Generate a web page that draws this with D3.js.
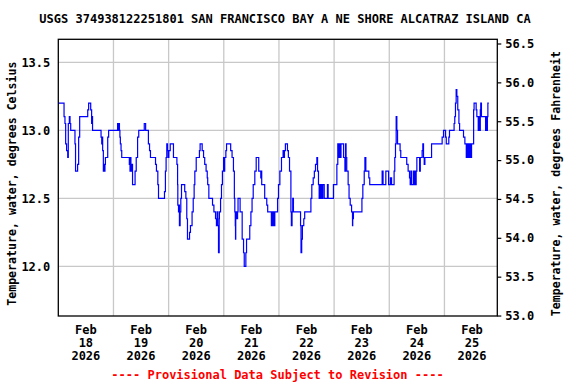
<!DOCTYPE html>
<html>
<head>
<meta charset="utf-8">
<script src="https://cdn.jsdelivr.net/npm/d3@7"></script>
<style>
  html, body { margin: 0; padding: 0; background: #fff; }
  svg { display: block; }
  text { font-family: "DejaVu Sans Mono", "Liberation Mono", monospace; font-weight: bold; }
</style>
</head>
<body>
<svg id="chart" width="576" height="384"></svg>
<script>
// ---------- DATA ----------
const chartTitle = "USGS 374938122251801 SAN FRANCISCO BAY A NE SHORE ALCATRAZ ISLAND CA";
const leftAxisTitle = "Temperature, water, degrees Celsius";
const rightAxisTitle = "Temperature, water, degrees Fahrenheit";
const footnote = "---- Provisional Data Subject to Revision ----";

// hours since 2026-02-18 00:00 at which the reading changes
const obsHours = [
  0,2.5,2.9,3.2,3.6,4.1,4.35,4.8,5.1,5.4,7.25,7.5,8.4,8.85,9.3,12.8,13.2,14.1,14.5,14.7,14.9,
  18.6,18.9,19.1,19.3,19.6,19.8,20.0,20.3,20.5,21.5,21.9,25.8,26.1,26.4,26.6,26.8,27.0,27.3,27.6,
  30.9,31.0,31.2,31.4,31.6,31.9,32.3,33.4,33.9,34.5,35.0,37.4,38.0,
  39.2,39.7,40.1,42.3,42.7,43.3,43.6,46.2,46.6,46.9,47.2,47.5,47.8,48.1,48.7,50.1,51.6,51.9,52.0,
  52.3,52.5,52.7,53.0,53.3,53.6,55.0,55.5,55.9,56.2,57.1,57.5,58.2,58.7,59.1,59.4,60.0,61.4,61.7,
  62.6,63.2,63.7,64.3,64.8,65.0,65.5,67.1,67.7,68.4,68.8,69.1,69.4,69.7,70.0,70.1,70.6,71.0,71.4,
  71.9,72.2,72.4,72.9,73.2,75.0,75.6,76.2,76.6,
  76.8,77.0,77.1,77.2,77.4,77.7,78.0,78.2,79.1,80.0,80.6,80.9,81.6,81.9,83.3,83.8,84.3,84.8,85.5,
  86.1,87.2,88.1,88.3,88.5,89.8,90.7,91.1,92.7,93.0,93.3,93.6,93.9,94.2,95.4,95.8,96.4,97.1,97.8,
  98.1,98.4,98.8,99.7,100.1,100.6,101.2,101.4,101.7,102.0,102.3,105.4,105.6,105.9,106.2,106.8,107.2,
  109.9,110.3,110.9,111.4,111.9,112.5,112.8,113.2,113.5,113.8,114.1,114.5,114.8,115.1,
  115.7,117.1,117.4,119.7,121.2,121.6,122.1,122.3,122.7,123.0,124.1,124.7,124.95,125.2,125.5,126.1,
  126.5,127.0,127.6,128.0,128.1,128.4,132.1,132.5,133.1,133.4,133.8,135.1,135.5,140.9,141.3,142.5,
  143.7,144.5,145.0,146.1,146.4,146.7,147.0,147.3,147.6,148.7,149.0,151.6,152.2,152.8,153.1,
  153.4,153.7,154.5,154.8,155.2,155.4,155.7,156.0,157.2,157.5,158.3,158.6,158.9,159.2,159.5,162.4,
  167.0,167.6,168.5,168.8,169.9,170.2,172.2,172.5,172.8,173.1,173.4,173.8,174.3,174.6,176.3,176.9,
  177.5,177.8,178.1,178.4,178.7,179.0,179.3,179.8,180.7,180.9,181.8,182.1,182.7,183.0,183.3,183.6,
  183.8,184.1,185.9,186.3,186.5,186.7,186.9,187.3
];
const obsTempC = [
  13.2,13.1,13.05,12.9,12.85,12.8,13.05,13.1,13.05,13.0,12.9,12.7,12.75,12.95,13.1,13.15,13.2,13.15,13.05,13.1,13.0,
  12.95,12.9,12.95,12.85,12.7,12.75,12.7,12.75,12.8,12.95,13.0,13.05,13.0,13.05,13.0,12.95,12.9,12.85,12.8,
  12.75,12.8,12.7,12.8,12.7,12.75,12.6,12.7,12.8,12.95,13.0,13.05,13.0,
  12.9,12.85,12.8,12.75,12.7,12.6,12.5,12.55,12.7,12.8,12.9,12.85,12.8,12.85,12.9,12.8,12.75,12.6,12.45,
  12.4,12.45,12.3,12.4,12.5,12.6,12.55,12.5,12.35,12.2,12.25,12.3,12.4,12.5,12.6,12.7,12.8,12.85,12.9,
  12.85,12.8,12.75,12.7,12.65,12.6,12.5,12.45,12.4,12.35,12.3,12.4,12.3,12.1,12.35,12.4,12.5,12.6,12.7,
  12.8,12.7,12.8,12.85,12.9,12.85,12.8,12.7,12.5,
  12.4,12.3,12.2,12.35,12.4,12.35,12.4,12.5,12.4,12.2,12.1,12.0,12.1,12.2,12.3,12.4,12.5,12.6,12.7,
  12.8,12.7,12.65,12.7,12.6,12.5,12.45,12.4,12.3,12.4,12.3,12.4,12.3,12.4,12.5,12.6,12.7,12.8,12.85,
  12.8,12.85,12.9,12.85,12.8,12.7,12.4,12.3,12.4,12.5,12.4,12.3,12.1,12.2,12.3,12.35,12.4,
  12.5,12.6,12.65,12.7,12.75,12.8,12.7,12.6,12.5,12.6,12.5,12.6,12.5,12.6,
  12.5,12.6,12.5,12.6,12.75,12.9,12.8,12.9,12.8,12.9,12.8,12.7,12.9,12.8,12.7,12.6,
  12.5,12.45,12.4,12.3,12.35,12.4,12.5,12.6,12.7,12.8,12.7,12.65,12.6,12.7,12.6,12.7,
  12.6,12.65,12.6,12.7,12.8,12.9,13.1,13.0,12.9,12.85,12.8,12.75,12.7,12.65,12.6,
  12.7,12.6,12.7,12.6,12.7,12.6,12.7,12.8,12.7,12.8,12.85,12.9,12.8,12.75,12.8,12.9,
  12.95,13.0,12.95,12.9,12.95,13.0,13.05,13.1,13.2,13.3,13.25,13.15,13.05,13.0,12.95,12.9,
  12.8,12.9,12.8,12.9,12.8,12.9,12.8,12.9,13.15,13.2,13.15,13.1,13.0,13.1,13.0,13.15,
  13.2,13.1,13.0,13.1,13.0,13.1,13.2,13.2
];
const dayLabels = ["18","19","20","21","22","23","24","25"];
const monthLabel = "Feb";
const yearLabel = "2026";
const celsiusTicks = [12.0, 12.5, 13.0, 13.5];
const fahrenheitTicks = [53.0, 53.5, 54.0, 54.5, 55.0, 55.5, 56.0, 56.5];

// ---------- LAYOUT ----------
const W = 576, H = 384;
const plot = { left: 58.3, right: 497.3, top: 39.3, bottom: 316 };
const t0 = Date.UTC(2026, 1, 18, 0, 0);
const hr = 3600 * 1000;

const svg = d3.select("#chart");

const x = d3.scaleUtc()
  .domain([new Date(t0), new Date(t0 + 191 * hr)])
  .range([plot.left, plot.right]);
const yC = d3.scaleLinear().domain([11.635, 13.669]).range([plot.bottom, plot.top]);
const yF = d3.scaleLinear().domain([52.994, 56.554]).range([plot.bottom, plot.top]);

// gridlines
const gridColor = "#c8c8c8";
const midnights = dayLabels.slice(1).map((d, i) => new Date(t0 + (i + 1) * 24 * hr));
svg.append("g").selectAll("line").data(midnights).join("line")
  .attr("x1", d => x(d)).attr("x2", d => x(d))
  .attr("y1", plot.top).attr("y2", plot.bottom)
  .attr("stroke", gridColor).attr("stroke-width", 1.3);
svg.append("g").selectAll("line").data(celsiusTicks).join("line")
  .attr("x1", plot.left).attr("x2", plot.right)
  .attr("y1", d => yC(d)).attr("y2", d => yC(d))
  .attr("stroke", gridColor).attr("stroke-width", 1.3);

// data line
const pts = obsHours.map((h, i) => ({ t: new Date(t0 + h * hr), v: obsTempC[i] }));
svg.append("path")
  .datum(pts)
  .attr("fill", "none")
  .attr("stroke", "#0000ff")
  .attr("stroke-width", 1.2)
  .attr("d", d3.line().x(d => x(d.t)).y(d => yC(d.v)).curve(d3.curveStepAfter));

// frame
svg.append("rect")
  .attr("x", plot.left).attr("y", plot.top)
  .attr("width", plot.right - plot.left).attr("height", plot.bottom - plot.top)
  .attr("fill", "none").attr("stroke", "#000").attr("stroke-width", 1.3);

// left axis labels
const leftAxis = d3.axisLeft(yC).tickValues(celsiusTicks).tickSize(0).tickPadding(8)
  .tickFormat(d3.format(".1f"));
const gL = svg.append("g").attr("transform", `translate(${plot.left},0)`).call(leftAxis);
gL.select(".domain").remove();
gL.selectAll("text").attr("font-size", 12).attr("fill", "#000")
  .style("font-family", '"DejaVu Sans Mono", monospace').style("font-weight", "bold");

// right axis
const rightAxis = d3.axisRight(yF).tickValues(fahrenheitTicks).tickSize(4).tickPadding(4)
  .tickFormat(d3.format(".1f"));
const gR = svg.append("g").attr("transform", `translate(${plot.right},0)`).call(rightAxis);
gR.select(".domain").remove();
gR.selectAll("line").attr("stroke", "#000").attr("stroke-width", 1.2);
gR.selectAll("text").attr("font-size", 12).attr("fill", "#000")
  .style("font-family", '"DejaVu Sans Mono", monospace').style("font-weight", "bold");

// bottom labels (noon of each day)
const noons = dayLabels.map((d, i) => ({ t: new Date(t0 + (i * 24 + 12) * hr), day: d }));
const gB = svg.append("g");
noons.forEach(n => {
  const tx = gB.append("text")
    .attr("x", x(n.t)).attr("y", 334)
    .attr("text-anchor", "middle").attr("font-size", 12).attr("fill", "#000");
  [monthLabel, n.day, yearLabel].forEach((s, k) => {
    tx.append("tspan").attr("x", x(n.t)).attr("dy", k === 0 ? 0 : 12.8).text(s);
  });
});

// title
svg.append("text").attr("x", 285).attr("y", 23).attr("text-anchor", "middle")
  .attr("font-size", 12).attr("fill", "#000").text(chartTitle);

// axis titles
svg.append("text")
  .attr("transform", `translate(16,${(plot.top + plot.bottom) / 2 + 6}) rotate(-90)`)
  .attr("text-anchor", "middle").attr("font-size", 11.6).attr("fill", "#000").text(leftAxisTitle);
svg.append("text")
  .attr("transform", `translate(560,${(plot.top + plot.bottom) / 2 + 6}) rotate(-90)`)
  .attr("text-anchor", "middle").attr("font-size", 11.6).attr("fill", "#000").text(rightAxisTitle);

// footnote
svg.append("text").attr("x", 277.5).attr("y", 379).attr("text-anchor", "middle")
  .attr("font-size", 12).attr("fill", "#ff0000").text(footnote);
</script>
</body>
</html>
